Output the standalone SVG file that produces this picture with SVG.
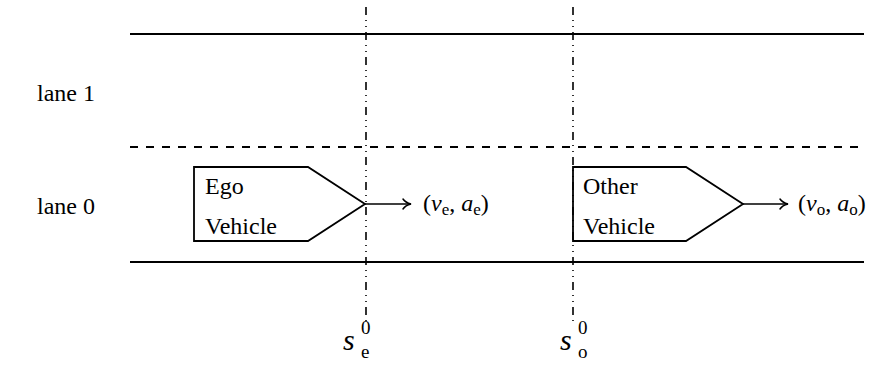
<svg xmlns="http://www.w3.org/2000/svg" width="874" height="365" viewBox="0 0 874 365">
<style>
.t{font-family:"Liberation Serif","Times New Roman",serif;font-size:24px;fill:#000}
.it{font-style:italic}
.sub{font-size:17px}
.big{font-size:30px}
.sm{font-size:19px}
.road{stroke:#000;stroke-width:1.8;fill:none}
.dash{stroke:#000;stroke-width:1.8;fill:none;stroke-dasharray:8 8}
.ref{stroke:#000;stroke-width:1.6;fill:none;stroke-dasharray:8 5 1 5 1 5}
.box{stroke:#000;stroke-width:1.8;fill:#fff;stroke-linejoin:miter}
.arr{stroke:#000;stroke-width:1.5;fill:none;marker-end:url(#ah)}
</style>
<defs>
<marker id="ah" markerUnits="userSpaceOnUse" markerWidth="14" markerHeight="14" viewBox="-10 -7 14 14" refX="0" refY="0" orient="auto">
<path d="M-8,-5 C-6,-2 -2,-0.5 0,0 C-2,0.5 -6,2 -8,5" stroke="#000" stroke-width="1.5" fill="none" stroke-linecap="round"/>
</marker>
</defs>
<g id="road">
<line class="road" x1="130" y1="34" x2="864" y2="34"/>
<line class="dash" x1="130" y1="147" x2="864" y2="147"/>
<line class="road" x1="130" y1="262" x2="864" y2="262"/>
</g>
<g id="lane-labels">
<text class="t" x="37" y="101">lane 1</text>
<text class="t" x="37" y="214">lane 0</text>
</g>
<g id="ego">
<polygon class="box" points="194,167 308,167 365,204 308,241 194,241"/>
<text class="t" x="205" y="194">Ego</text>
<text class="t" x="205" y="234">Vehicle</text>
</g>
<g id="other">
<polygon class="box" points="573,167 686,167 743,204 686,241 573,241"/>
<text class="t" x="583" y="194">Other</text>
<text class="t" x="583" y="234">Vehicle</text>
</g>
<g id="refs">
<line class="ref" x1="366" y1="7" x2="366" y2="323"/>
<line class="ref" x1="573" y1="7" x2="573" y2="323"/>
</g>
<g id="connectors">
<line class="arr" x1="365" y1="204" x2="411" y2="204"/>
<line class="arr" x1="743" y1="204" x2="788" y2="204"/>
</g>
<g id="state-labels">
<text class="t" x="423" y="211">(<tspan class="it">v</tspan><tspan class="sub" dy="4">e</tspan><tspan dy="-4">, </tspan><tspan class="it">a</tspan><tspan class="sub" dy="4">e</tspan><tspan dy="-4">)</tspan></text>
<text class="t" x="798" y="211">(<tspan class="it">v</tspan><tspan class="sub" dy="4">o</tspan><tspan dy="-4">, </tspan><tspan class="it">a</tspan><tspan class="sub" dy="4">o</tspan><tspan dy="-4">)</tspan></text>
</g>
<g id="s-labels">
<text class="t it big" x="343" y="350">s</text>
<text class="t sm" x="361" y="334">0</text>
<text class="t sm" x="361" y="358">e</text>
<text class="t it big" x="560" y="350">s</text>
<text class="t sm" x="578" y="334">0</text>
<text class="t sm" x="578" y="358">o</text>
</g>
</svg>
